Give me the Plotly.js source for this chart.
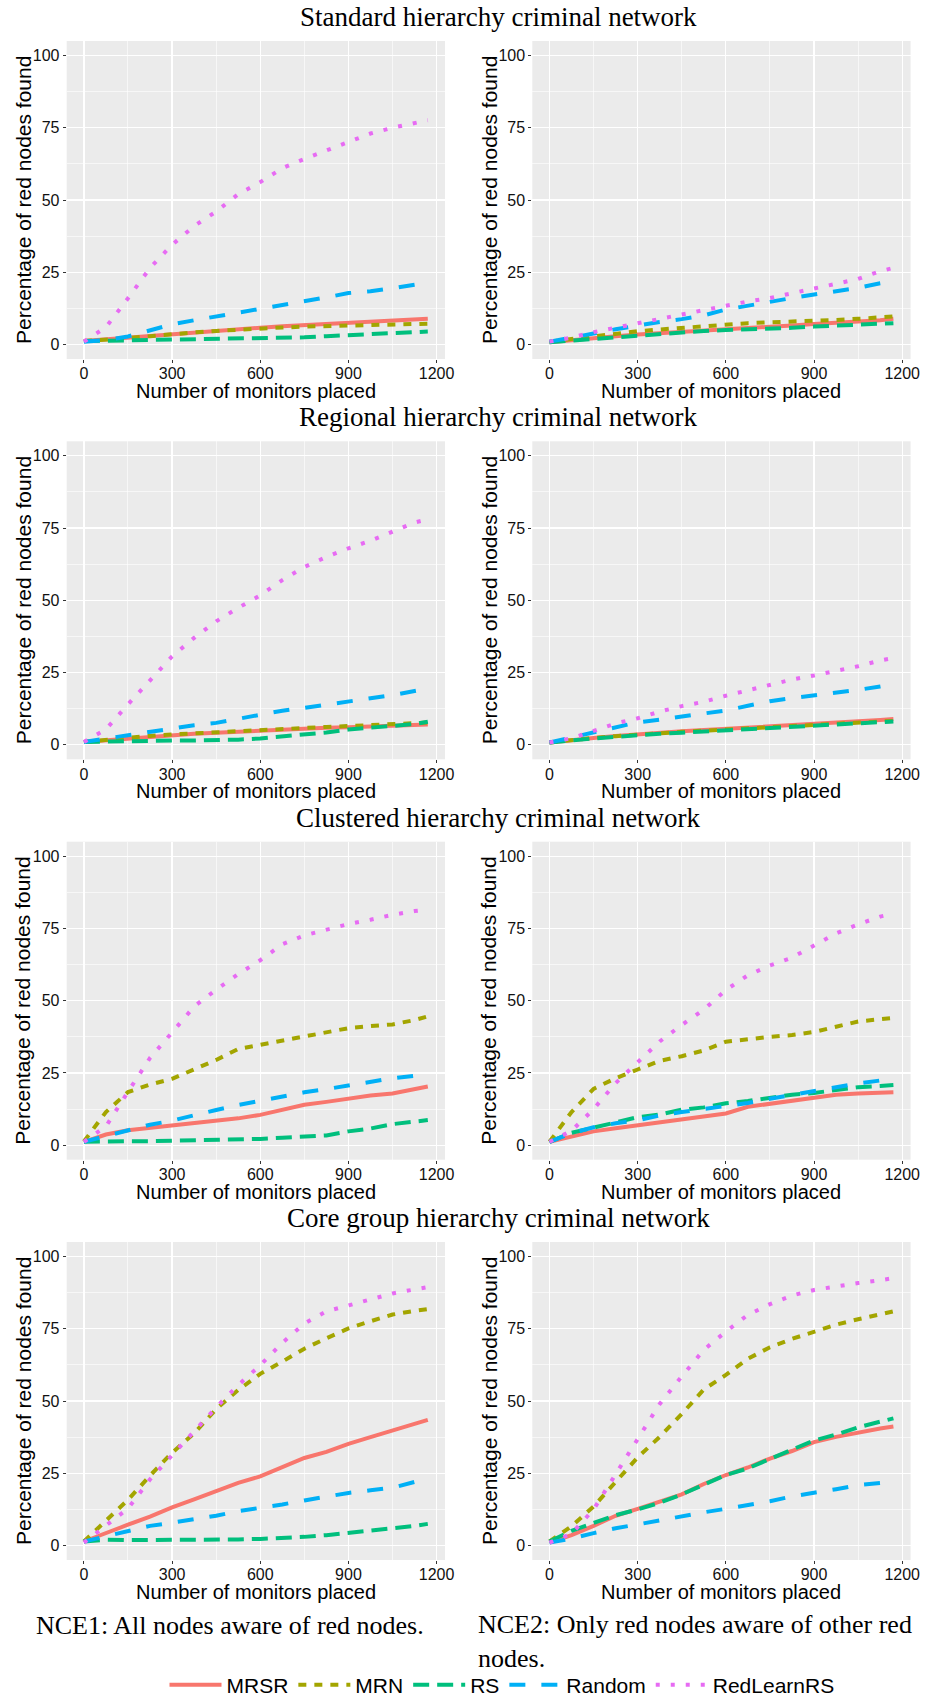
<!DOCTYPE html>
<html>
<head>
<meta charset="utf-8">
<script src="https://cdn.plot.ly/plotly-3.0.1.min.js"></script>
<style>
  html, body { margin: 0; padding: 0; background: #ffffff; width: 936px; height: 1696px; overflow: hidden; }
  #chart { width: 936px; height: 1696px; }
</style>
</head>
<body>
<div id="chart"></div>
<script>
// ---------------- DATA ----------------
const monitors = [0, 75, 150, 225, 300, 375, 450, 525, 600, 675, 750, 825, 900, 975, 1050, 1125, 1170];
const methods = ["MRSR", "MRN", "RS", "Random", "RedLearnRS"];
const networkTitles = [
  "Standard hierarchy criminal network",
  "Regional hierarchy criminal network",
  "Clustered hierarchy criminal network",
  "Core group hierarchy criminal network"
];
const xTickLabels = [0, 300, 600, 900, 1200];
const yTickLabels = [0, 25, 50, 75, 100];
const xAxisTitle = "Number of monitors placed";
const yAxisTitle = "Percentage of red nodes found";
const captionNCE1 = "NCE1: All nodes aware of red nodes.";
const captionNCE2 = "NCE2: Only red nodes aware of other red<br>nodes.";

// Standard hierarchy, NCE1
const standard_nce1_MRSR       = [1.2, 1.8, 2.5, 3.1, 3.7, 4.1, 4.8, 5.3, 5.8, 6.3, 6.7, 7.1, 7.4, 7.8, 8.3, 8.8, 8.9];
const standard_nce1_MRN        = [1.2, 1.6, 2.2, 2.9, 3.7, 4.2, 4.7, 5.2, 5.6, 5.9, 6.2, 6.4, 6.6, 6.8, 7.0, 7.1, 7.2];
const standard_nce1_RS         = [1.2, 1.3, 1.4, 1.5, 1.6, 1.7, 1.8, 2.0, 2.2, 2.3, 2.5, 2.9, 3.3, 3.7, 4.1, 4.4, 4.5];
const standard_nce1_Random     = [1.0, 1.5, 2.8, 5.0, 7.0, 8.4, 9.7, 10.8, 12.3, 13.4, 15.0, 16.3, 17.8, 18.4, 19.5, 20.5, 21.4];
const standard_nce1_RedLearnRS = [1.0, 6.0, 16.0, 26.5, 34.5, 41.0, 46.0, 52.0, 56.2, 61.0, 64.2, 67.1, 70.3, 73.0, 75.0, 76.8, 77.6];

// Standard hierarchy, NCE2
const standard_nce2_MRSR       = [0.8, 1.6, 2.3, 2.9, 3.5, 3.9, 4.3, 4.7, 5.1, 5.6, 6.2, 6.6, 7.1, 7.5, 7.9, 8.4, 8.9];
const standard_nce2_MRN        = [1.0, 1.9, 3.1, 3.9, 4.6, 5.2, 5.8, 6.4, 7.1, 7.4, 7.7, 7.9, 8.2, 8.5, 8.9, 9.3, 9.7];
const standard_nce2_RS         = [0.8, 1.4, 2.0, 2.6, 3.1, 3.7, 4.2, 4.7, 5.0, 5.2, 5.4, 5.8, 6.2, 6.5, 6.9, 7.2, 7.4];
const standard_nce2_Random     = [1.0, 2.3, 3.8, 5.3, 6.7, 7.8, 8.8, 10.1, 12.1, 13.5, 14.8, 16.1, 17.3, 18.4, 19.6, 21.2, 22.0];
const standard_nce2_RedLearnRS = [1.0, 2.4, 4.3, 5.9, 7.4, 8.8, 10.4, 11.9, 13.5, 14.9, 16.1, 17.9, 19.4, 21.0, 22.7, 25.4, 26.5];

// Regional hierarchy, NCE1
const regional_nce1_MRSR       = [1.0, 1.6, 2.3, 2.8, 3.3, 3.8, 4.2, 4.6, 5.0, 5.3, 5.6, 5.9, 6.1, 6.4, 6.6, 6.9, 7.0];
const regional_nce1_MRN        = [1.0, 1.8, 2.5, 3.1, 3.6, 4.0, 4.5, 4.9, 5.3, 5.6, 5.9, 6.2, 6.5, 6.8, 7.1, 7.4, 7.7];
const regional_nce1_RS         = [1.0, 1.2, 1.4, 1.5, 1.5, 1.5, 1.6, 1.8, 2.2, 2.8, 3.6, 4.3, 5.3, 5.9, 6.5, 7.2, 8.0];
const regional_nce1_Random     = [1.0, 2.2, 3.5, 4.7, 5.8, 6.8, 7.6, 9.0, 10.6, 11.8, 12.8, 14.0, 15.1, 16.1, 17.2, 18.5, 19.5];
const regional_nce1_RedLearnRS = [1.0, 5.4, 14.0, 22.5, 30.6, 37.0, 42.7, 47.4, 51.7, 57.0, 61.5, 65.0, 68.0, 70.6, 73.8, 76.9, 78.0];

// Regional hierarchy, NCE2
const regional_nce2_MRSR       = [0.8, 1.7, 2.4, 3.1, 3.7, 4.2, 4.7, 5.1, 5.5, 6.0, 6.4, 6.8, 7.2, 7.7, 8.1, 8.6, 8.9];
const regional_nce2_MRN        = [0.8, 1.7, 2.4, 3.0, 3.6, 4.0, 4.5, 4.9, 5.3, 5.7, 6.1, 6.5, 6.9, 7.3, 7.7, 8.0, 8.3];
const regional_nce2_RS         = [0.8, 1.6, 2.2, 2.8, 3.4, 3.8, 4.2, 4.6, 5.1, 5.4, 5.8, 6.1, 6.4, 6.8, 7.3, 7.8, 8.1];
const regional_nce2_Random     = [0.8, 2.6, 4.4, 6.2, 7.8, 8.7, 9.7, 10.8, 11.9, 13.5, 15.1, 16.2, 17.1, 18.1, 19.0, 20.2, 21.0];
const regional_nce2_RedLearnRS = [0.8, 2.3, 4.8, 7.4, 9.2, 11.5, 13.4, 14.9, 17.0, 18.8, 20.7, 22.6, 24.0, 25.5, 27.2, 29.2, 30.0];

// Clustered hierarchy, NCE1
const clustered_nce1_MRSR       = [1.2, 3.7, 5.2, 6.0, 6.6, 7.6, 8.3, 9.3, 10.5, 12.3, 14.0, 15.0, 16.2, 17.2, 17.9, 19.2, 20.3];
const clustered_nce1_MRN        = [1.3, 11.5, 18.4, 21.0, 23.0, 26.2, 29.5, 33.3, 34.8, 36.2, 37.5, 39.2, 40.5, 41.2, 41.8, 43.3, 44.6];
const clustered_nce1_RS         = [1.2, 1.4, 1.4, 1.4, 1.5, 1.6, 1.8, 2.0, 2.2, 2.6, 2.9, 3.4, 4.8, 5.8, 7.3, 8.0, 8.7];
const clustered_nce1_Random     = [1.2, 3.2, 5.2, 7.1, 8.5, 10.5, 12.2, 13.9, 15.3, 17.0, 18.3, 19.4, 20.6, 21.7, 23.2, 24.0, 24.7];
const clustered_nce1_RedLearnRS = [1.2, 6.5, 18.5, 30.2, 39.0, 48.0, 53.8, 59.2, 64.0, 69.5, 72.6, 74.6, 76.5, 78.0, 79.7, 81.0, 81.5];

// Clustered hierarchy, NCE2
const clustered_nce2_MRSR       = [1.2, 3.1, 4.8, 5.9, 6.9, 7.9, 9.1, 10.2, 11.0, 13.3, 14.4, 15.5, 16.6, 17.5, 17.9, 18.2, 18.3];
const clustered_nce2_MRN        = [1.2, 11.5, 19.5, 23.2, 26.2, 29.2, 30.8, 32.8, 35.8, 36.8, 37.5, 38.1, 39.2, 41.0, 42.8, 43.6, 44.0];
const clustered_nce2_RS         = [1.2, 4.3, 6.1, 8.0, 9.7, 10.6, 12.3, 13.1, 14.5, 15.3, 16.5, 17.5, 18.1, 19.2, 20.1, 20.5, 20.8];
const clustered_nce2_Random     = [1.2, 4.2, 6.2, 7.6, 8.6, 10.3, 11.5, 12.5, 13.5, 14.6, 16.1, 17.4, 19.0, 20.2, 21.4, 22.4, 23.3];
const clustered_nce2_RedLearnRS = [1.2, 5.0, 12.5, 21.5, 28.7, 35.9, 41.6, 46.9, 53.7, 58.8, 62.2, 64.9, 69.1, 73.3, 76.4, 79.1, 80.1];

// Core group hierarchy, NCE1
const core_nce1_MRSR       = [1.4, 4.4, 7.2, 10.0, 13.2, 16.0, 19.0, 21.7, 23.9, 27.1, 30.3, 32.4, 35.2, 37.5, 39.8, 41.9, 43.5];
const core_nce1_MRN        = [1.4, 8.5, 15.8, 24.2, 32.1, 38.8, 47.2, 53.8, 59.4, 63.6, 68.1, 71.7, 75.1, 77.6, 79.9, 81.2, 81.8];
const core_nce1_RS         = [1.4, 2.0, 1.9, 1.9, 1.9, 2.0, 2.0, 2.1, 2.3, 2.6, 3.0, 3.6, 4.5, 5.2, 6.0, 6.8, 7.5];
const core_nce1_Random     = [1.4, 3.3, 5.0, 6.8, 7.9, 9.1, 10.3, 11.9, 12.9, 14.2, 15.6, 17.0, 18.2, 19.1, 20.0, 22.0, 23.2];
const core_nce1_RedLearnRS = [1.0, 6.8, 12.8, 22.9, 31.2, 39.4, 47.8, 55.5, 62.4, 70.1, 76.8, 81.0, 83.1, 85.4, 87.2, 88.6, 89.4];

// Core group hierarchy, NCE2
const core_nce2_MRSR       = [1.0, 3.6, 6.8, 10.3, 12.7, 15.1, 17.7, 21.3, 24.4, 27.0, 30.1, 32.7, 35.8, 37.6, 39.2, 40.5, 41.2];
const core_nce2_MRN        = [1.4, 6.7, 13.5, 22.0, 30.5, 37.6, 45.5, 54.0, 59.0, 64.6, 68.6, 71.5, 73.8, 76.4, 78.3, 79.9, 81.0];
const core_nce2_RS         = [1.4, 5.1, 7.8, 10.5, 12.5, 14.8, 17.7, 20.9, 24.4, 26.7, 30.1, 33.2, 36.3, 38.4, 40.9, 42.8, 44.0];
const core_nce2_Random     = [1.0, 2.4, 4.3, 6.0, 7.3, 8.8, 10.0, 11.5, 12.7, 13.9, 15.3, 17.0, 18.1, 19.5, 20.9, 21.5, 22.1];
const core_nce2_RedLearnRS = [1.0, 4.1, 12.5, 24.5, 36.5, 49.0, 58.5, 67.7, 74.0, 79.8, 83.5, 86.5, 88.4, 89.7, 90.8, 91.8, 92.5];

// table built from the arrays above: [row][col] -> series per method
const panels = [
  [[standard_nce1_MRSR, standard_nce1_MRN, standard_nce1_RS, standard_nce1_Random, standard_nce1_RedLearnRS],
   [standard_nce2_MRSR, standard_nce2_MRN, standard_nce2_RS, standard_nce2_Random, standard_nce2_RedLearnRS]],
  [[regional_nce1_MRSR, regional_nce1_MRN, regional_nce1_RS, regional_nce1_Random, regional_nce1_RedLearnRS],
   [regional_nce2_MRSR, regional_nce2_MRN, regional_nce2_RS, regional_nce2_Random, regional_nce2_RedLearnRS]],
  [[clustered_nce1_MRSR, clustered_nce1_MRN, clustered_nce1_RS, clustered_nce1_Random, clustered_nce1_RedLearnRS],
   [clustered_nce2_MRSR, clustered_nce2_MRN, clustered_nce2_RS, clustered_nce2_Random, clustered_nce2_RedLearnRS]],
  [[core_nce1_MRSR, core_nce1_MRN, core_nce1_RS, core_nce1_Random, core_nce1_RedLearnRS],
   [core_nce2_MRSR, core_nce2_MRN, core_nce2_RS, core_nce2_Random, core_nce2_RedLearnRS]]
];

// ---------------- STYLE ----------------
const colors = ["#F8766D", "#A3A500", "#00BF7D", "#00B0F6", "#E76BF3"];
const dashes = ["solid", "8px,8px", "16px,8px", "16px,16px", "4px,11px"];
const LW = 4;

const W = 936, H = 1696;
const colLeft = [66.7, 532.3];
const colWidth = 378.3;
const rowTop = [41, 441.3, 841.7, 1242];
const rowH = 318;

const px = v => v / W;
const py = v => 1 - v / H;

const sans = "Liberation Sans, Arial, sans-serif";
const serif = "Liberation Serif, Times New Roman, serif";

const traces = [];
const layout = {
  width: W, height: H,
  margin: {l: 0, r: 0, t: 0, b: 0, pad: 0, autoexpand: false},
  paper_bgcolor: "#ffffff",
  plot_bgcolor: "#EBEBEB",
  showlegend: true,
  legend: {
    orientation: "h",
    x: px(502), xanchor: "center",
    y: py(1685), yanchor: "middle",
    font: {family: sans, size: 21, color: "#000"},
    bgcolor: "rgba(255,255,255,0)",
    itemwidth: 52,
    traceorder: "normal"
  },
  annotations: [],
  font: {family: sans}
};

let axIdx = 0;
for (let r = 0; r < 4; r++) {
  for (let c = 0; c < 2; c++) {
    axIdx++;
    const sfx = axIdx === 1 ? "" : String(axIdx);
    const xName = "x" + sfx, yName = "y" + sfx;
    layout["xaxis" + sfx] = {
      domain: [px(colLeft[c]), px(colLeft[c] + colWidth)],
      anchor: yName,
      range: [-58.5, 1228.5],
      tickmode: "array", tickvals: xTickLabels, ticktext: xTickLabels.map(String),
      showgrid: true, gridcolor: "#ffffff", gridwidth: 1.2,
      minor: {tickmode: "array", tickvals: [150, 450, 750, 1050], showgrid: true, gridcolor: "#ffffff", gridwidth: 0.6},
      ticks: "outside", ticklen: 3, tickwidth: 1, tickcolor: "#333333",
      ticklabelstandoff: -3,
      tickfont: {family: sans, size: 16, color: "#111"},
      zeroline: false, showline: false, fixedrange: true, automargin: false
    };
    layout["yaxis" + sfx] = {
      domain: [py(rowTop[r] + rowH), py(rowTop[r])],
      anchor: xName,
      range: [-5, 105],
      tickmode: "array", tickvals: yTickLabels, ticktext: yTickLabels.map(String),
      showgrid: true, gridcolor: "#ffffff", gridwidth: 1.2,
      minor: {tickmode: "array", tickvals: [12.5, 37.5, 62.5, 87.5], showgrid: true, gridcolor: "#ffffff", gridwidth: 0.6},
      ticks: "outside", ticklen: 3, tickwidth: 1, tickcolor: "#333333",
      tickfont: {family: sans, size: 16, color: "#111"},
      zeroline: false, showline: false, fixedrange: true, automargin: false
    };
    const series = panels[r][c];
    for (let m = 0; m < methods.length; m++) {
      traces.push({
        type: "scatter", mode: "lines",
        x: monitors, y: series[m],
        xaxis: xName, yaxis: yName,
        name: methods[m], legendgroup: methods[m],
        showlegend: axIdx === 1,
        line: {color: colors[m], width: LW, dash: dashes[m], shape: "linear"},
        hoverinfo: "skip"
      });
    }
    // axis titles
    layout.annotations.push({
      text: xAxisTitle, xref: "paper", yref: "paper",
      x: px(colLeft[c] + colWidth / 2), y: py(rowTop[r] + 350),
      xanchor: "center", yanchor: "middle", showarrow: false,
      font: {family: sans, size: 20, color: "#000"}
    });
    layout.annotations.push({
      text: yAxisTitle, xref: "paper", yref: "paper",
      x: px(c === 0 ? 23 : 489), y: py(rowTop[r] + rowH / 2),
      xanchor: "center", yanchor: "middle", textangle: -90, showarrow: false,
      font: {family: sans, size: 21, color: "#000"}
    });
  }
  // row title
  layout.annotations.push({
    text: networkTitles[r], xref: "paper", yref: "paper",
    x: px(498), y: py(rowTop[r] - 24),
    xanchor: "center", yanchor: "middle", showarrow: false,
    font: {family: serif, size: 27, color: "#000"}
  });
}

// captions
layout.annotations.push({
  text: captionNCE1, xref: "paper", yref: "paper",
  x: px(230), y: py(1625), xanchor: "center", yanchor: "middle", showarrow: false,
  font: {family: serif, size: 26, color: "#000"}
});
layout.annotations.push({
  text: captionNCE2, xref: "paper", yref: "paper",
  x: px(476), y: py(1608), xanchor: "left", yanchor: "top", align: "left", showarrow: false,
  font: {family: serif, size: 26, color: "#000"}
});

Plotly.newPlot("chart", traces, layout, {staticPlot: true, displayModeBar: false});
</script>
</body>
</html>
